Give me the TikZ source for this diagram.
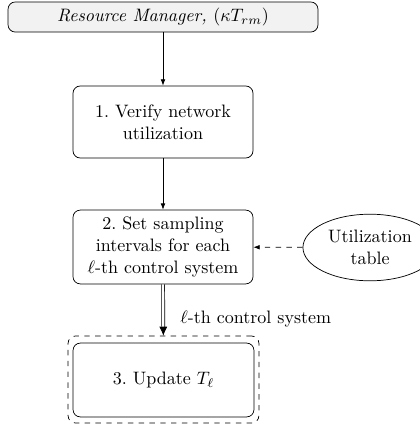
\documentclass[tikz,border=0pt]{standalone}
\usetikzlibrary{arrows.meta,shapes.geometric}
\begin{document}
\begin{tikzpicture}[x=0.5556pt,y=-0.5556pt,
  box/.style={draw,rounded corners=4pt,align=center,inner sep=2pt,minimum width=100pt},
  arr/.style={-{Latex[length=3.5pt,width=2.6pt]}}]
\useasboundingbox (0,0) rectangle (419,425);
\node[box,fill=gray!10,minimum width=172.2pt,minimum height=16.7pt] (rm) at (163,17) {\itshape Resource Manager, $(\kappa T_{rm})$};
\node[box,minimum height=40pt] (b1) at (163,122) {1.\ Verify network\\utilization};
\node[box,minimum height=41pt] (b2) at (163,247) {2.\ Set sampling\\intervals for each\\$\ell$-th control system};
\node[box,minimum width=100.5pt,minimum height=41pt] (b3) at (163.5,380) {3.\ Update $T_\ell$};
\node[draw,dashed,rounded corners=4pt,minimum width=106pt,minimum height=48.3pt] (outer) at (163.5,379.5) {};
\node[draw,ellipse,minimum width=74.5pt,minimum height=37pt,inner sep=1pt,align=center] (ut) at (370,247.5) {Utilization\\table};
\draw[arr] (rm) -- (b1);
\draw[arr] (b1) -- (b2);
\draw[arr,dashed] (ut) -- (b2);
\draw[double,double distance=1.2pt,-{Latex[length=5pt,width=4.5pt]}] (b2) -- node[right=6pt,pos=0.68] (lbl) {$\ell$-th control system} (outer);
\end{tikzpicture}
\end{document}
